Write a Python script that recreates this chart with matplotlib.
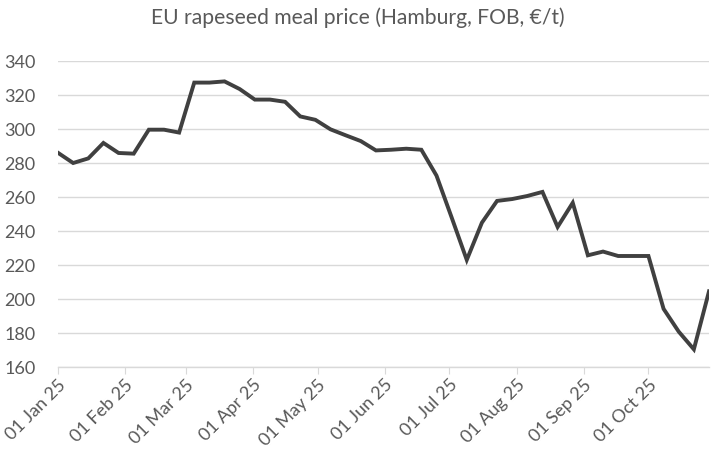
import matplotlib
matplotlib.use("Agg")
import matplotlib.pyplot as plt
import matplotlib.dates as mdates
import numpy as np
import pandas as pd

start_date = "2025-01-01"
n_weeks = 44
prices = [286, 280, 282.7, 291.8, 285.9, 285.5, 299.6, 299.6, 297.9,
          327.3, 327.3, 328, 323.5, 317.3, 317.3, 316, 307.4, 305.4,
          299.8, 296.3, 292.9, 287.4, 287.8, 288.4, 287.8, 272.6,
          248, 223, 244.9, 257.7, 258.8, 260.6, 263, 242.4, 256.6,
          225.7, 227.9, 225.3, 225.3, 225.3, 194.2, 180.8, 170.4, 204.5]
title = "EU rapeseed meal price (Hamburg, FOB, €/t)"
y_ticks = [160, 180, 200, 220, 240, 260, 280, 300, 320, 340]
month_ticks = pd.date_range("2025-01-01", "2025-10-01", freq="MS")

dates = pd.date_range(start_date, periods=n_weeks, freq="7D")

plt.rcParams['font.family'] = ['Lato', 'DejaVu Sans']
fig = plt.figure(figsize=(7.16, 4.61), dpi=100)
ax = fig.add_axes([58/716, 1-367/461, (709-58)/716, (367-61)/461])

ax.plot(dates, prices, color="#404040", linewidth=2.8, solid_joinstyle="miter")
ax.set_xlim(dates[0], dates[-1])
ax.set_ylim(160, 340)
ax.set_yticks(y_ticks)
ax.yaxis.grid(True, color="#d9d9d9", linewidth=1)
ax.set_axisbelow(True)
for s in ["top", "right", "left"]:
    ax.spines[s].set_visible(False)
ax.spines["bottom"].set_color("#d9d9d9")
ax.spines["bottom"].set_linewidth(1)
ax.tick_params(axis="y", length=0, pad=16, labelsize=13, labelcolor="#595959")
ax.set_xticks(month_ticks)
ax.xaxis.set_major_formatter(mdates.DateFormatter("%d %b %y"))
ax.tick_params(axis="x", length=5, color="#d9d9d9", labelsize=13,
               labelcolor="#595959", pad=2)
for lab in ax.get_xticklabels():
    lab.set_rotation(45)
    lab.set_ha("right")
    lab.set_rotation_mode("anchor")

fig.text(0.5, 1-18/461, title, ha="center", va="center", fontsize=15.2, color="#595959")
fig.savefig("out.png", dpi=100)
